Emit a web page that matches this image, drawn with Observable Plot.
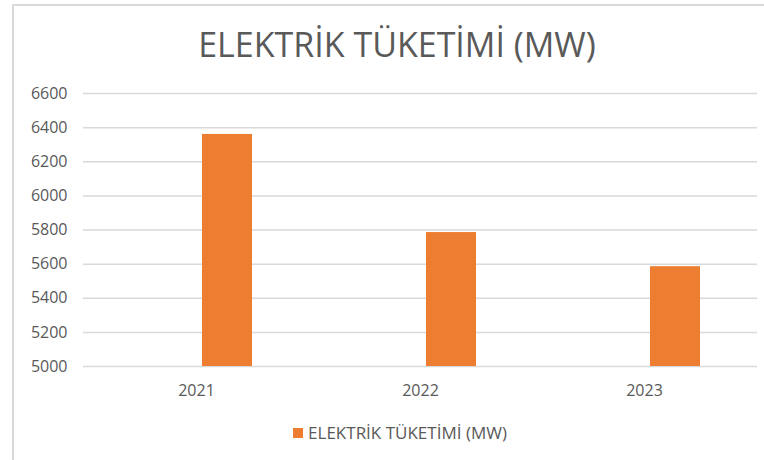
<!DOCTYPE html>
<html>
<head>
<meta charset="utf-8">
<script src="https://cdn.jsdelivr.net/npm/d3@7"></script>
<script src="https://cdn.jsdelivr.net/npm/@observablehq/plot@0.6"></script>
<style>
  html, body { margin: 0; padding: 0; background: #fff; }
  #wrap { position: relative; width: 764px; height: 460px; overflow: hidden; font-family: "Open Sans", sans-serif; }
  #frame { position: absolute; left: 12px; top: 4px; width: 800px; height: 520px; border-left: 2px solid #d9d9d9; border-top: 2px solid #d9d9d9; box-sizing: border-box; }
  #title { position: absolute; left: 12px; width: 770px; top: 20px; text-align: center; font-size: 34px; color: #595959; line-height: 48px; }
  #chart { position: absolute; left: 0; top: 0; }
  #legend { position: absolute; left: 0; width: 800px; top: 421px; text-align: center; font-size: 17px; color: #595959; line-height: 24px; }
  #legend .sw { display: inline-block; width: 10px; height: 10px; background: #ED7D31; margin-right: 5px; vertical-align: 1px; }
</style>
</head>
<body>
<div id="wrap">
  <div id="frame"></div>
  <div id="title"></div>
  <div id="chart"></div>
  <div id="legend"></div>
</div>
<script>
const title = "ELEKTRİK TÜKETİMİ (MW)";
const seriesName = "ELEKTRİK TÜKETİMİ (MW)";
const years = ["2021", "2022", "2023"];
const values = [6360, 5785, 5585];
const yTicks = [5000, 5200, 5400, 5600, 5800, 6000, 6200, 6400, 6600];
const barColor = "#ED7D31";

const data = years.map((y, i) => ({year: y, value: values[i]}));

document.getElementById("title").textContent = title;
document.getElementById("legend").innerHTML = '<span class="sw"></span>' + seriesName;

const chart = Plot.plot({
  width: 764,
  height: 420,
  marginTop: 93,
  marginBottom: 54,
  marginLeft: 83,
  marginRight: 7,
  style: {fontFamily: "Open Sans, sans-serif", fontSize: "16px", color: "#595959", background: "transparent"},
  x: {domain: years, padding: 0, label: null},
  y: {domain: [5000, 6600], label: null},
  marks: [
    Plot.ruleY(yTicks, {stroke: "#d9d9d9", strokeWidth: 1.5}),
    Plot.barY(data, {x: "year", y1: 5000, y2: "value", fill: barColor, insetLeft: 87, insetRight: 87, dx: 31}),
    Plot.axisY({ticks: yTicks, tickFormat: d => String(d), tickSize: 0, tickPadding: 16, fill: "#595959", fontSize: 16, label: null}),
    Plot.axisX({tickSize: 0, tickPadding: 18, fill: "#595959", fontSize: 16, label: null})
  ]
});
document.getElementById("chart").appendChild(chart);
</script>
</body>
</html>
